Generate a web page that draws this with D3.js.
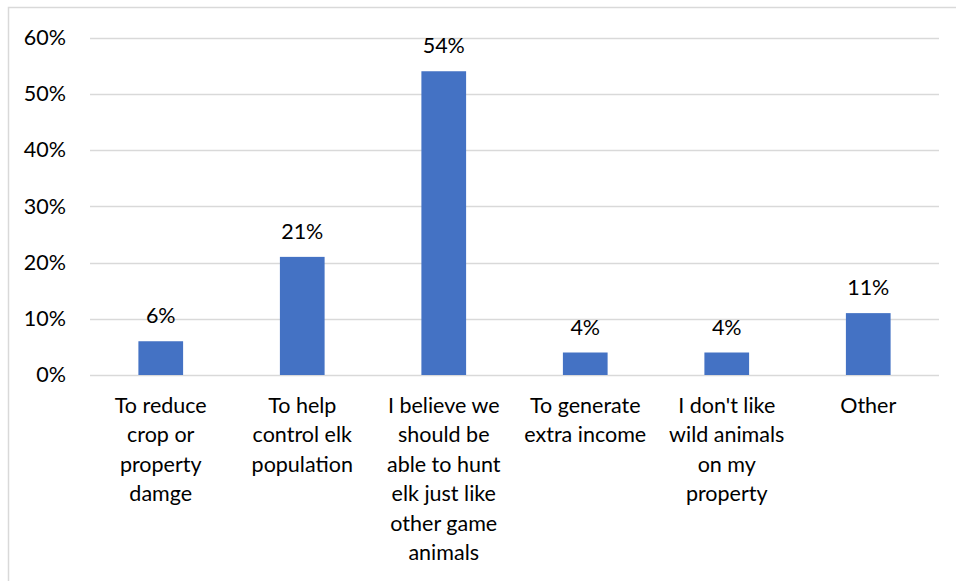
<!DOCTYPE html>
<html>
<head>
<meta charset="utf-8">
<script src="https://cdn.jsdelivr.net/npm/d3@7"></script>
<style>
  html, body { margin: 0; padding: 0; background: #fff; }
  svg { display: block; }
  text { font-family: Lato, "Open Sans", sans-serif; fill: #000; }
</style>
</head>
<body>
<svg id="chart" width="956" height="581"></svg>
<script>
// Reasons for hunting elk (share of respondents)
const categories = [
  "To reduce\ncrop or\nproperty\ndamge",
  "To help\ncontrol elk\npopulation",
  "I believe we\nshould be\nable to hunt\nelk just like\nother game\nanimals",
  "To generate\nextra income",
  "I don't like\nwild animals\non my\nproperty",
  "Other"
];
const values = [6, 21, 54, 4, 4, 11];
const yTicks = [0, 10, 20, 30, 40, 50, 60];

const svg = d3.select("#chart");
const W = 956, H = 581;
const margin = { left: 90, right: 17, top: 37.5, bottom: 206 };
const fontSize = 21.5;

// Outer frame
svg.append("rect")
  .attr("x", 8.5).attr("y", 7.5)
  .attr("width", W + 10).attr("height", H + 10)
  .attr("fill", "none").attr("stroke", "#d9d9d9").attr("stroke-width", 1.5);

const x = d3.scaleBand()
  .domain(d3.range(categories.length))
  .range([margin.left, W - margin.right])
  .paddingInner(0).paddingOuter(0);

const y = d3.scaleLinear()
  .domain([0, 60])
  .range([H - margin.bottom, margin.top]);

// Gridlines
svg.append("g")
  .selectAll("line")
  .data(yTicks)
  .join("line")
  .attr("x1", margin.left).attr("x2", W - margin.right)
  .attr("y1", d => Math.round(y(d)) + 0.5).attr("y2", d => Math.round(y(d)) + 0.5)
  .attr("stroke", "#d9d9d9").attr("stroke-width", 1.5);

// Y axis labels
const yAxis = d3.axisLeft(y).tickValues(yTicks).tickFormat(d => d + "%").tickSize(0).tickPadding(24);
const gy = svg.append("g").attr("transform", `translate(${margin.left},0)`).call(yAxis);
gy.select(".domain").remove();
gy.selectAll("text").attr("font-size", fontSize).attr("font-family", "Lato, 'Open Sans', sans-serif").attr("fill", "#000");

// Bars
const barW = x.bandwidth() * 0.316;
svg.append("g")
  .selectAll("rect")
  .data(values)
  .join("rect")
  .attr("x", (d, i) => x(i) + x.bandwidth() / 2 - barW / 2)
  .attr("y", d => y(d))
  .attr("width", barW)
  .attr("height", d => y(0) - y(d))
  .attr("fill", "#4472c4");

// Value labels
svg.append("g")
  .selectAll("text")
  .data(values)
  .join("text")
  .attr("x", (d, i) => x(i) + x.bandwidth() / 2)
  .attr("y", d => y(d) - 18)
  .attr("text-anchor", "middle")
  .attr("font-size", fontSize)
  .text(d => d + "%");

// Category labels
const cat = svg.append("g")
  .selectAll("text")
  .data(categories)
  .join("text")
  .attr("x", (d, i) => x(i) + x.bandwidth() / 2)
  .attr("y", 413)
  .attr("text-anchor", "middle")
  .attr("font-size", fontSize);
cat.selectAll("tspan")
  .data(d => d.split("\n"))
  .join("tspan")
  .attr("x", function () { return d3.select(this.parentNode).attr("x"); })
  .attr("dy", (d, i) => i === 0 ? 0 : 29.4)
  .text(d => d);
</script>
</body>
</html>
